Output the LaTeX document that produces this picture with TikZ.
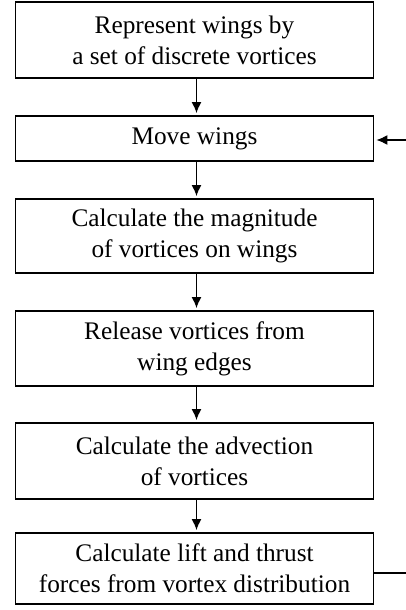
\documentclass[tikz,border=0pt]{standalone}
\usepackage{fontspec}
\setmainfont{Liberation Serif}
\usetikzlibrary{arrows.meta}
\begin{document}
\begin{tikzpicture}[x=1pt,y=-1pt,
  stepbox/.style={draw,line width=1.8pt,minimum width=358pt,align=center,
    inner sep=0pt,font=\fontsize{25.3}{31}\selectfont},
  flow/.style={line width=1.5pt,-{Latex[length=11pt,width=10pt]},shorten >=2pt},
  plain/.style={line width=1.6pt}]
\useasboundingbox (0,0) rectangle (406,610);
\node[stepbox,minimum height=76pt] (b1) at (194.5,40) {Represent wings by\\a set of discrete vortices};
\node[stepbox,minimum height=45pt] (b2) at (194.5,138.5) {Move wings};
\node[stepbox,minimum height=74pt] (b3) at (194.5,236) {Calculate the magnitude\\ of vortices on wings};
\node[stepbox,minimum height=75pt] (b4) at (194.5,348.5) {Release vortices from\\wing edges};
\node[stepbox,minimum height=76pt] (b5) at (194.5,461) {Calculate the advection\\of vortices};
\node[stepbox,minimum height=71pt] (b6) at (194.5,568.5) {Calculate lift and thrust\\forces from vortex distribution};
\draw[flow] ([xshift=2pt]b1.south) -- ([xshift=2pt]b2.north);
\draw[flow] ([xshift=2pt]b2.south) -- ([xshift=2pt]b3.north);
\draw[flow] ([xshift=2pt]b3.south) -- ([xshift=2pt]b4.north);
\draw[flow] ([xshift=2pt]b4.south) -- ([xshift=2pt]b5.north);
\draw[flow] ([xshift=2pt]b5.south) -- ([xshift=2pt]b6.north);
% feedback loop stubs leaving the right edge
\coordinate (back) at (406,140);
\coordinate (out) at (406,573);
\draw[flow] (back) -- (b2.east |- back);
\draw[plain] (b6.east |- out) -- (out);
\end{tikzpicture}
\end{document}
